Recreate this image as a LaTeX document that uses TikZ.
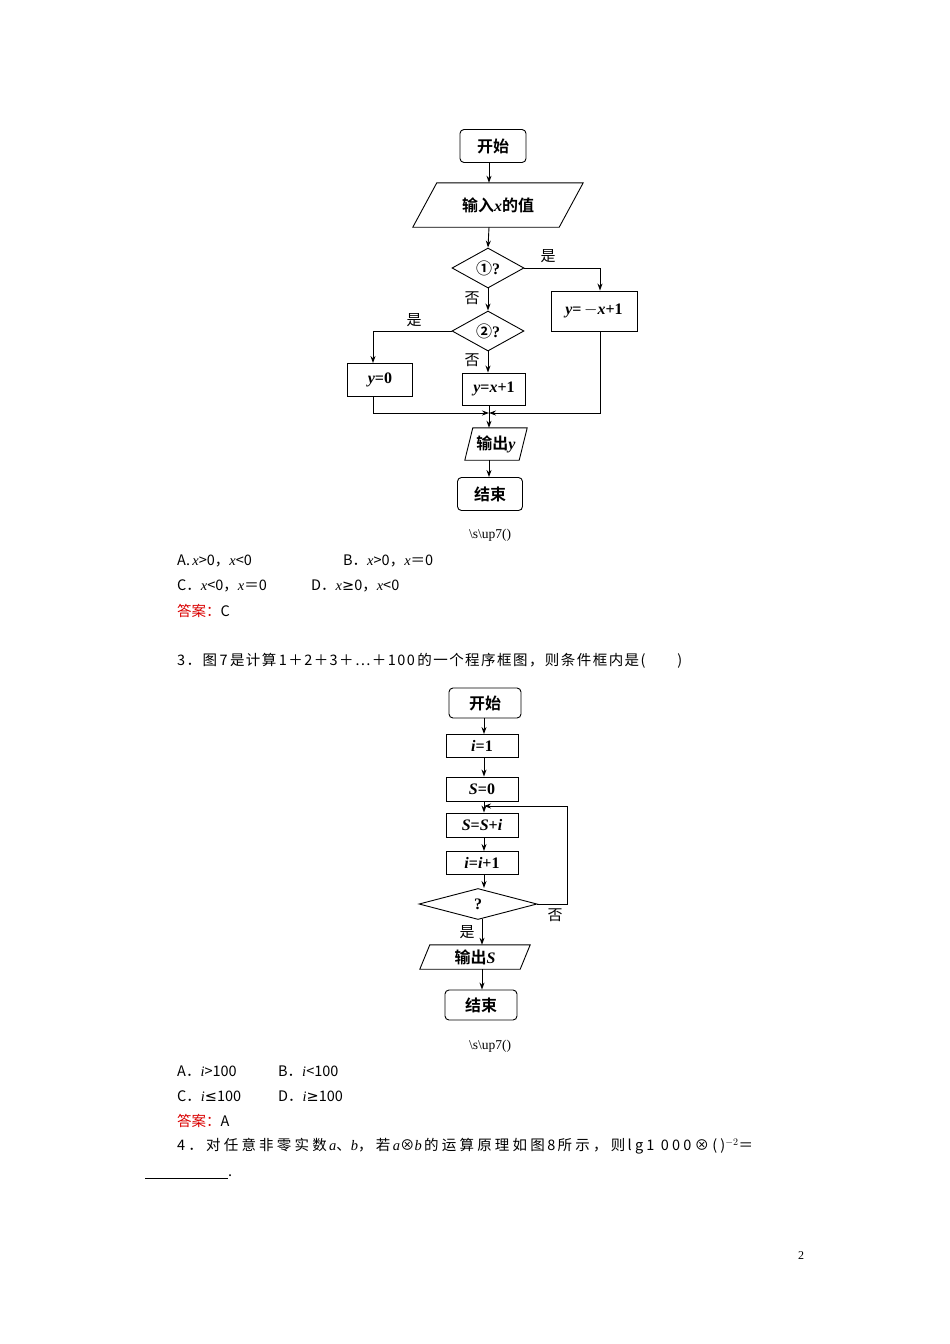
\documentclass[tikz,border=0pt]{standalone}
\usepackage{fontspec}
\usetikzlibrary{shapes.geometric,arrows.meta}
\setmainfont{Liberation Serif}
\newfontfamily\cjk{Noto Sans CJK SC}
\newfontfamily\cjkb{Noto Sans CJK SC Bold}
\newfontfamily\lser{Liberation Serif}
\newfontfamily\dv{DejaVu Sans}
\newfontfamily\cjkw{Noto Sans CJK SC}[LetterSpace=10]
\newfontfamily\cjkww{Noto Sans CJK SC}[LetterSpace=22]
\newcommand{\mi}[1]{{\lser\itshape #1}}
\newcommand{\mb}[1]{{\lser\bfseries\itshape #1}}
\newcommand{\rb}[1]{{\lser\bfseries #1}}
\begin{document}
\begin{tikzpicture}[x=1pt,y=-1pt,
 every node/.style={inner sep=0pt},
 ch/.style={font=\fontsize{16}{18}\selectfont\cjkb},
 term/.style={draw,line width=0.9pt,rounded corners=4pt,ch,minimum width=66pt,minimum height=33pt},
 proc/.style={draw,line width=0.9pt,ch,minimum width=#1,minimum height=32pt},
 proc/.default=66pt,
 lab/.style={font=\fontsize{15}{17}\selectfont\cjk},
 txt/.style={anchor=west,font=\fontsize{14.5}{16}\selectfont\cjk},
 ln/.style={line width=0.9pt},
 pg/.style={line width=0.9pt},
 ar/.style={line width=0.9pt,-{Stealth[length=7pt,width=5pt]}}]
\useasboundingbox (0,0) rectangle (950,1344);
% chart 1
\node[term] (s1) at (493,146) {开始};
\node[ch,minimum width=146pt,minimum height=44pt] (in1) at (498,205) {输入\mb{x}的值};
\draw[pg] ([xshift=12pt]in1.north west) -- ([xshift=12pt]in1.north east) -- ([xshift=-12pt]in1.south east) -- ([xshift=-12pt]in1.south west) -- cycle;
\node[draw,line width=0.9pt,diamond,aspect=1.8,minimum width=72pt,minimum height=40pt,ch] (d1) at (488,268) {①\rb{?}};
\node[draw,line width=0.9pt,diamond,aspect=1.8,minimum width=72pt,minimum height=40pt,ch] (d2) at (488,331) {②\rb{?}};
\node[proc=86pt,minimum height=40pt] (b1) at (594,311) {\mb{y}\rb{=}\,\rb{$-$}\mb{x}\rb{+1}};
\node[proc=65pt,minimum height=33pt] (b2) at (380,380) {\mb{y}\rb{=0}};
\node[proc=63pt] (b3) at (494,389) {\mb{y}\rb{=}\mb{x}\rb{+1}};
\node[ch,minimum width=54pt,minimum height=32pt] (o1) at (496,444) {输出\mb{y}};
\draw[pg] ([xshift=4pt]o1.north west) -- ([xshift=4pt]o1.north east) -- ([xshift=-4pt]o1.south east) -- ([xshift=-4pt]o1.south west) -- cycle;
\node[term,minimum width=65pt] (e1) at (490,494) {结束};
\coordinate (m1) at (489,413);
\draw[ar] (s1.south -| 489,0) -- (in1.north -| 489,0);
\draw[ar] (in1.south -| 489,0) -- (d1.north);
\draw[ar] (d1.south) -- (d2.north);
\draw[ar] (d1.east) -| (b1.north -| 600,0);
\draw[ar] (d2.west) -| (b2.north -| 373,0);
\draw[ar] (d2.south) -- (b3.north -| 488,0);
\draw[ar] (b2.south -| 373,0) |- (m1);
\draw[ar] (b1.south -| 600,0) |- (m1);
\draw[ar] (b3.south -| 489,0) -- (o1.north -| 489,0);
\draw[ar] (o1.south -| 489,0) -- (e1.north -| 489,0);
\node[lab] at (548,256) {是};
\node[lab] at (472,298) {否};
\node[lab] at (414,320) {是};
\node[lab] at (472,360) {否};
% texts 1
\node[font=\fontsize{13.5}{15}\selectfont\lser] at (490,535) {\textbackslash s\textbackslash up7()};
\node[txt] at (177,561) {A.\,\mi{x}>0，\mi{x}<0};
\node[txt] at (343,561) {B．\mi{x}>0，\mi{x}＝0};
\node[txt] at (177,586) {C．\mi{x}<0，\mi{x}＝0};
\node[txt] at (311,586) {D．\mi{x}{\dv ≥}0，\mi{x}<0};
\node[txt,text=red!85!black] at (177,611) {答案：\textcolor{black}{C}};
\node[txt,font=\fontsize{14.5}{16}\selectfont\cjkw] at (177,661) {3．图\,7\,是计算\,1＋2＋3＋…＋100\,的一个程序框图，则条件框内是(\hspace{2.2em})};
% chart 2
\node[term,minimum width=72pt,minimum height=30pt] (s2) at (485,703) {开始};
\node[proc=72pt,minimum height=23pt] (p1) at (482,746) {\mb{i}\rb{=1}};
\node[proc=72pt,minimum height=24pt] (p2) at (482,789) {\mb{S}\rb{=0}};
\node[proc=72pt,minimum height=24pt] (p3) at (482,825) {\mb{S}\rb{=}\mb{S}\rb{+}\mb{i}};
\node[proc=72pt,minimum height=23pt] (p4) at (482,863) {\mb{i}\rb{=}\mb{i}\rb{+1}};
\node[draw,line width=0.9pt,diamond,aspect=3.8,minimum width=118pt,minimum height=31pt,ch] (d3) at (478,904) {\rb{?}};
\node[ch,minimum width=100pt,minimum height=24pt] (o2) at (475,957) {输出\mb{S}};
\draw[pg] ([xshift=5pt]o2.north west) -- ([xshift=5pt]o2.north east) -- ([xshift=-5pt]o2.south east) -- ([xshift=-5pt]o2.south west) -- cycle;
\node[term,minimum width=72pt,minimum height=30pt] (e2) at (481,1005) {结束};
\coordinate (lp) at (484,806);
\draw[ar] (s2.south -| 484,0) -- (p1.north -| 484,0);
\draw[ar] (p1.south -| 484,0) -- (p2.north -| 484,0);
\draw[ln] (p2.south -| 484,0) -- (lp);
\draw[ar] (lp) -- (p3.north -| 484,0);
\draw[ar] (p3.south -| 484,0) -- (p4.north -| 484,0);
\draw[ar] (p4.south -| 484,0) -- (484,888);
\draw[ar] (d3.east) -| (567,806) -- (lp);
\draw[ar] (482,919) -- (o2.north -| 482,0);
\draw[ar] (o2.south -| 482,0) -- (e2.north -| 482,0);
\node[lab] at (555,915) {否};
\node[lab] at (467,932) {是};
% texts 2
\node[font=\fontsize{13.5}{15}\selectfont\lser] at (490,1046) {\textbackslash s\textbackslash up7()};
\node[txt] at (177,1071) {A．\mi{i}>100};
\node[txt] at (278,1071) {B．\mi{i}<100};
\node[txt] at (177,1096) {C．\mi{i}{\dv ≤}100};
\node[txt] at (278,1096) {D．\mi{i}{\dv ≥}100};
\node[txt,text=red!85!black] at (177,1121) {答案：\textcolor{black}{A}};
\node[txt,font=\fontsize{14.5}{16}\selectfont\cjkww] at (177,1146) {4．对任意非零实数\,\mi{a}、\mi{b}，若\,\mi{a}⊗\mi{b}\,的运算原理如图\,8\,所示，则\,lg1\ 000⊗()$^{-2}$＝};
\draw[line width=0.5pt] (145,1178) -- (228,1178);
\node[txt] at (228,1176) {.};
\node[font=\fontsize{12}{14}\selectfont\lser] at (801,1256) {2};
\end{tikzpicture}
\end{document}
